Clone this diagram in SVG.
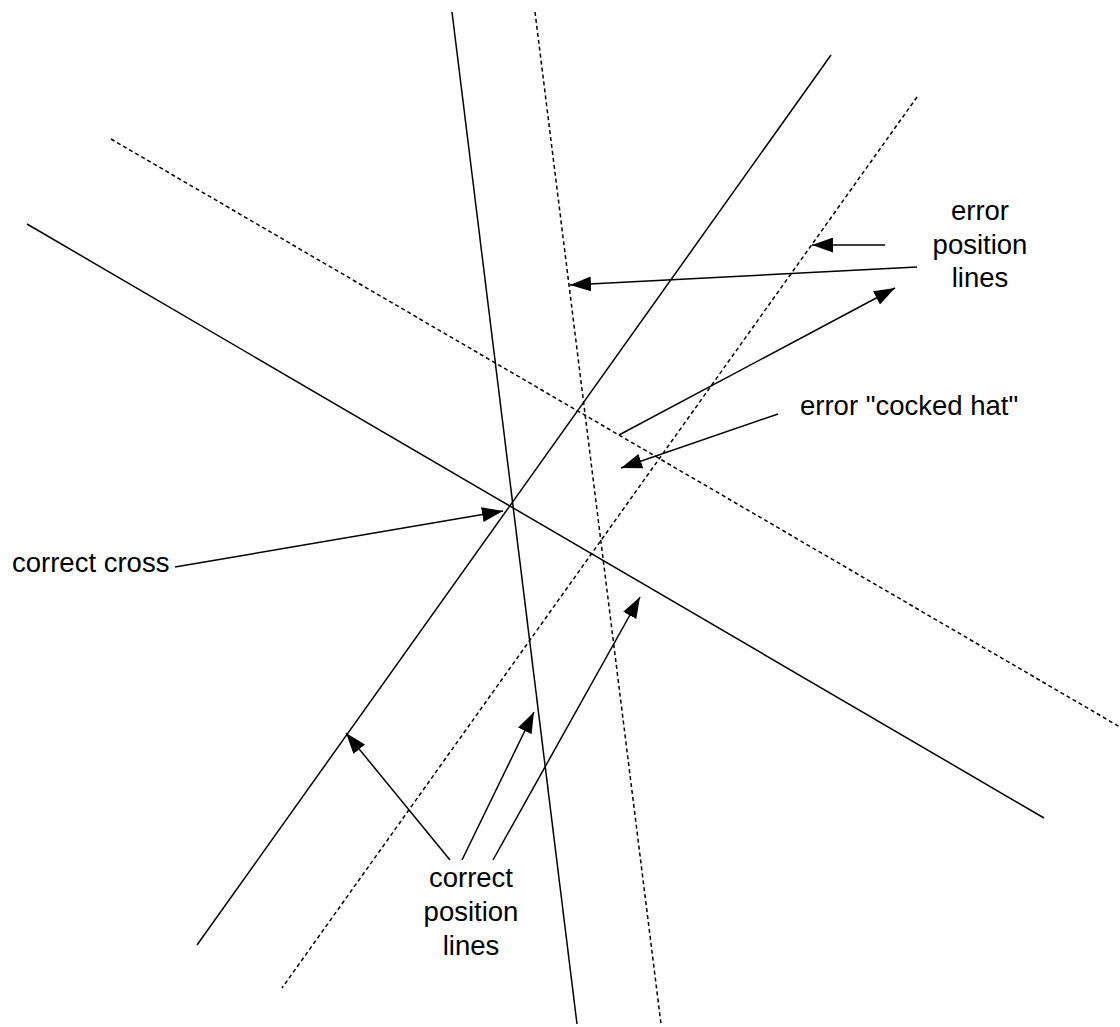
<svg xmlns="http://www.w3.org/2000/svg" width="1120" height="1027" viewBox="0 0 1120 1027">
<style>
.s{stroke:#000;stroke-width:1.5;fill:none}
.d{stroke:#000;stroke-width:1.5;fill:none;stroke-dasharray:4,3}
.a{stroke:#000;stroke-width:1.5;fill:none;marker-end:url(#ah)}
text{font-family:"Liberation Sans",Arial,sans-serif;font-size:27.5px;fill:#000}
</style>
<defs>
<marker id="ah" viewBox="0 0 21 15" refX="21" refY="7.5" markerWidth="21" markerHeight="15" markerUnits="userSpaceOnUse" orient="auto">
<path d="M0,0 L21,7.5 L0,15 Z" fill="#000"/>
</marker>
</defs>
<rect width="1120" height="1027" fill="#fff"/>
<g id="lines">
<line class="s" x1="452" y1="12" x2="577" y2="1024"/>
<line class="d" x1="535" y1="12" x2="661" y2="1024"/>
<line class="s" x1="831" y1="55" x2="197" y2="945"/>
<line class="d" x1="917" y1="97" x2="282" y2="988"/>
<line class="s" x1="27" y1="224" x2="1044" y2="818"/>
<line class="d" x1="111" y1="139" x2="1120" y2="727"/>
</g>
<g id="connectors">
<line class="a" x1="885" y1="245" x2="812" y2="245"/>
<line class="a" x1="917" y1="267" x2="570" y2="285"/>
<line class="a" x1="619" y1="435" x2="895" y2="288"/>
<line class="a" x1="778" y1="414" x2="621" y2="468"/>
<line class="a" x1="175" y1="567" x2="503" y2="511"/>
<line class="a" x1="450" y1="860" x2="346" y2="733"/>
<line class="a" x1="462" y1="860" x2="534" y2="712"/>
<line class="a" x1="493" y1="860" x2="640" y2="597"/>
</g>
<g id="label-error-position">
<text x="980" y="220" text-anchor="middle">error</text>
<text x="980" y="254" text-anchor="middle">position</text>
<text x="980" y="287" text-anchor="middle">lines</text>
</g>
<g id="label-cocked-hat">
<text x="800" y="415">error "cocked hat"</text>
</g>
<g id="label-correct-cross">
<text x="12" y="572">correct cross</text>
</g>
<g id="label-correct-position">
<text x="471" y="887" text-anchor="middle">correct</text>
<text x="471" y="921" text-anchor="middle">position</text>
<text x="471" y="955" text-anchor="middle">lines</text>
</g>
</svg>
